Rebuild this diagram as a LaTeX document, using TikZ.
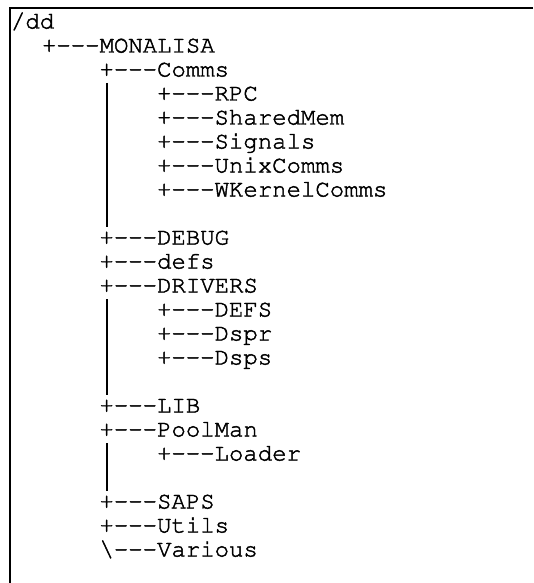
\documentclass[tikz,border=0pt]{standalone}
\usepackage[T1]{fontenc}
\renewcommand{\ttdefault}{pcr}
\usetikzlibrary{calc}
\newcommand{\lnk}{+-{}-{}-}
\begin{document}
\begin{tikzpicture}[x=1pt,y=-1pt,
  % Courier rows, drawn with fill + stroke for slightly heavier strokes
  row/.style={anchor=base west, inner sep=0pt, outer sep=0pt,
              font=\ttfamily\fontsize{24}{24}\selectfont,
              execute at begin node=\special{pdf:literal direct 2 Tr 0.45 w},
              execute at end node=\special{pdf:literal direct 0 Tr}},
  bar/.style={line width=1.6pt},
  frame/.style={line width=1.4pt}]
\useasboundingbox (0,0) rectangle (533,583);
% open frame: top and left edges
\draw[frame] (533,8) -- (10,8) -- (10,583);

% directory listing, one row every 24pt
\node[row] (root)    at (11,28.5)    {/dd};
\node[row] (mona)    at (42,52.5)    {\lnk MONALISA};
\node[row] (comms)   at (99.5,76.5)  {\lnk Comms};
\node[row] (rpc)     at (157,100.5)  {\lnk RPC};
\node[row] (shm)     at (157,124.5)  {\lnk SharedMem};
\node[row] (sig)     at (157,148.5)  {\lnk Signals};
\node[row] (unix)    at (157,172.5)  {\lnk UnixComms};
\node[row] (wk)      at (157,196.5)  {\lnk WKernelComms};
\node[row] (debug)   at (99.5,244.5) {\lnk DEBUG};
\node[row] (defs)    at (99.5,268.5) {\lnk defs};
\node[row] (drivers) at (99.5,292.5) {\lnk DRIVERS};
\node[row] (dDEFS)   at (157,316.5)  {\lnk DEFS};
\node[row] (dspr)    at (157,340.5)  {\lnk Dspr};
\node[row] (dsps)    at (157,364.5)  {\lnk Dsps};
\node[row] (lib)     at (99.5,412.5) {\lnk LIB};
\node[row] (pool)    at (99.5,436.5) {\lnk PoolMan};
\node[row] (loader)  at (157,460.5)  {\lnk Loader};
\node[row] (saps)    at (99.5,508.5) {\lnk SAPS};
\node[row] (utils)   at (99.5,532.5) {\lnk Utils};
\node[row] (various) at (99.5,556.5) {\textbackslash-{}-{}-Various};

% sibling continuation bars under the '+' column
\draw[bar] ($(comms.base west)+(7.2,6.5)$)   -- ($(debug.base west)+(7.2,-17.5)$);
\draw[bar] ($(drivers.base west)+(7.2,6.5)$) -- ($(lib.base west)+(7.2,-17.5)$);
\draw[bar] ($(pool.base west)+(7.2,6.5)$)    -- ($(saps.base west)+(7.2,-17.5)$);
\end{tikzpicture}
\end{document}
